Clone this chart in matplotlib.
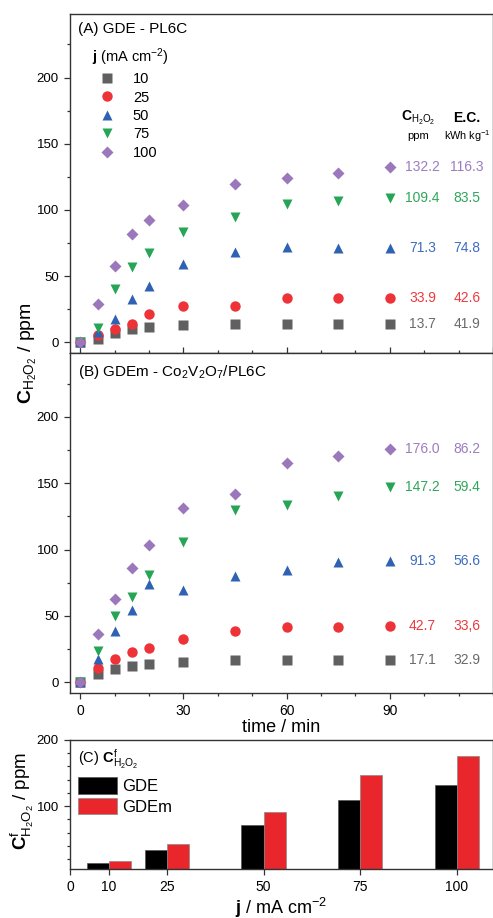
import matplotlib
matplotlib.use("Agg")
import matplotlib.pyplot as plt
from matplotlib.ticker import MultipleLocator
import numpy as np

plt.rcParams["font.family"] = ["Liberation Sans", "DejaVu Sans"]
plt.rcParams["mathtext.fontset"] = "custom"
plt.rcParams["mathtext.rm"] = "Liberation Sans"
plt.rcParams["mathtext.bf"] = "Liberation Sans:bold"
plt.rcParams["mathtext.it"] = "Liberation Sans:italic"

# dados
time = [0, 5, 10, 15, 20, 30, 45, 60, 75, 90]
j_labels = ["10", "25", "50", "75", "100"]
j_vals = [10, 25, 50, 75, 100]

# (A) GDE - PL6C
a10 = [0, 2.8, 7.3, 10.3, 11.6, 12.9, 14.1, 14.1, 13.8, 13.7]
a25 = [0, 5.3, 10.3, 13.6, 21.2, 27.3, 27.5, 33.3, 33.9, 33.9]
a50 = [0, 7.8, 17.9, 32.6, 42.4, 59.0, 68.4, 72.2, 71.0, 71.3]
a75 = [0, 11.1, 40.6, 56.6, 67.2, 83.6, 94.4, 104.5, 107.0, 109.4]
a100 = [0, 29.3, 57.6, 81.6, 92.4, 103.8, 119.7, 124.0, 127.8, 132.2]

# (B) GDEm - Co2V2O7/PL6C
b10 = [0, 6.0, 9.8, 12.1, 13.6, 15.4, 16.7, 17.0, 17.0, 17.1]
b25 = [0, 10.6, 17.9, 22.5, 26.0, 32.8, 38.6, 41.9, 41.9, 42.7]
b50 = [0, 17.9, 38.9, 54.5, 74.2, 69.7, 79.8, 84.8, 90.4, 91.3]
b75 = [0, 23.7, 50.0, 64.6, 81.0, 105.6, 129.5, 133.8, 140.4, 147.2]
b100 = [0, 36.4, 62.9, 86.4, 103.8, 131.6, 141.7, 165.2, 170.7, 176.0]

# valores finais e consumo de energia (texto a direita)
final_A = [13.7, 33.9, 71.3, 109.4, 132.2]
ec_A = ["41.9", "42.6", "74.8", "83.5", "116.3"]
final_B = [17.1, 42.7, 91.3, 147.2, 176.0]
ec_B = ["32.9", "33,6", "56.6", "59.4", "86.2"]

markers = ["s", "o", "^", "v", "D"]
msizes = [6.5, 7.5, 7.5, 7.5, 6.5]
colors = ["#606060", "#ee3338", "#2f62b3", "#27a557", "#9a78bb"]
text_colors = ["#6a6a6a", "#ec3a3e", "#3d6cc0", "#2ea65a", "#9c7cc0"]

fig = plt.figure(figsize=(4.93, 9.18), dpi=100)
W, H = 493.0, 918.0
ax1 = fig.add_axes([70 / W, 1 - 353 / H, 423 / W, 339 / H])
ax2 = fig.add_axes([70 / W, 1 - 693 / H, 423 / W, 340 / H])
ax3 = fig.add_axes([70 / W, 1 - 869 / H, 423 / W, 129 / H])

spine_col = "#333333"
for ax in (ax1, ax2, ax3):
    for s in ax.spines.values():
        s.set_color(spine_col)
        s.set_linewidth(1.0)
    ax.tick_params(which="major", length=4.5, width=0.9, color=spine_col,
                   labelsize=10)
    ax.tick_params(which="minor", length=2.5, width=0.9, color=spine_col)

series_A = [a10, a25, a50, a75, a100]
series_B = [b10, b25, b50, b75, b100]

for ax, series, finals, ecs in ((ax1, series_A, final_A, ec_A),
                                (ax2, series_B, final_B, ec_B)):
    for k in range(5):
        ax.plot(time, series[k], linestyle="none", marker=markers[k],
                ms=msizes[k], color=colors[k], mec="none", label=j_labels[k])
        ax.text(99.5, finals[k], "%.1f" % finals[k], color=text_colors[k],
                fontsize=10, ha="center", va="center")
        ax.text(112.4, finals[k], ecs[k], color=text_colors[k],
                fontsize=10, ha="center", va="center")
    ax.set_xlim(-3, 120)
    ax.set_ylim(-8, 248)
    ax.xaxis.set_major_locator(MultipleLocator(30))
    ax.xaxis.set_minor_locator(MultipleLocator(10))
    ax.yaxis.set_major_locator(MultipleLocator(50))
    ax.yaxis.set_minor_locator(MultipleLocator(25))
    ax.set_yticks([0, 50, 100, 150, 200])
    ax.tick_params(axis="y", labelsize=9.5)

ax1.tick_params(axis="x", which="both", direction="inout", labelbottom=False)
ax1.tick_params(axis="x", which="major", length=8)
ax1.tick_params(axis="x", which="minor", length=5)

# cabecalho das colunas
ax1.text(98.3, 169.5, r"$\mathbf{C}_{\mathrm{H_2O_2}}$", fontsize=10,
         ha="center", va="center")
ax1.text(98.3, 155.5, "ppm", fontsize=8, ha="center", va="center")
ax1.text(112.4, 169.5, "E.C.", fontsize=10, fontweight="bold",
         ha="center", va="center")
ax1.text(112.4, 155.5, r"kWh kg$^{-1}$", fontsize=7.8,
         ha="center", va="center")

ax1.text(0.02, 0.955, "(A) GDE - PL6C", transform=ax1.transAxes,
         fontsize=11, ha="left", va="center")
ax2.text(0.02, 0.945, r"(B) GDEm - Co$_2$V$_2$O$_7$/PL6C",
         transform=ax2.transAxes, fontsize=11, ha="left", va="center")

leg = ax1.legend(loc="upper left", bbox_to_anchor=(0.052, 0.905),
                 frameon=False, fontsize=10.5, borderaxespad=0, borderpad=0,
                 labelspacing=0.3, handletextpad=0.8, handlelength=2.0,
                 title=r"$\mathbf{j}$ (mA cm$^{-2}$)", title_fontsize=10.5,
                 alignment="left")

ax2.set_xticks([0, 30, 60, 90])
ax2.set_xlabel("time / min", fontsize=13, labelpad=1)

# (C) barras
w = 5.7
ax3.bar(np.array(j_vals) - w, final_A, width=w, align="edge", color="black",
        edgecolor="#555555", linewidth=0.5, label="GDE")
ax3.bar(np.array(j_vals), final_B, width=w, align="edge", color="#e8262b",
        edgecolor="#888888", linewidth=0.5, label="GDEm")
ax3.set_xlim(0, 109.3)
ax3.set_ylim(5, 200)
ax3.set_xticks([0, 10, 25, 50, 75, 100])
ax3.set_yticks([100, 200])
ax3.yaxis.set_minor_locator(MultipleLocator(20))
ax3.tick_params(axis="y", labelsize=9.5)
ax3.set_xlabel(r"$\mathbf{j}$ / mA cm$^{-2}$", fontsize=13, labelpad=1)
ax3.text(0.02, 0.85, r"(C) $\mathbf{C}^{\mathrm{f}}_{\mathrm{H_2O_2}}$",
         transform=ax3.transAxes, fontsize=10.5, ha="left", va="center")
ax3.legend(loc="upper left", bbox_to_anchor=(0.018, 0.71), frameon=False,
           fontsize=12, borderaxespad=0, borderpad=0, labelspacing=0.2,
           handlelength=2.35, handleheight=1.15, handletextpad=0.3)

# rotulos do eixo y
fig.text(28 / W, 1 - 353 / H, r"$\mathbf{C}_{\mathrm{H_2O_2}}$ / ppm",
         rotation=90, fontsize=14, ha="center", va="center")
fig.text(22 / W, 1 - 801 / H,
         r"$\mathbf{C}^{\mathrm{f}}_{\mathrm{H_2O_2}}$ / ppm",
         rotation=90, fontsize=13.5, ha="center", va="center")

fig.savefig("out.png", dpi=100)
